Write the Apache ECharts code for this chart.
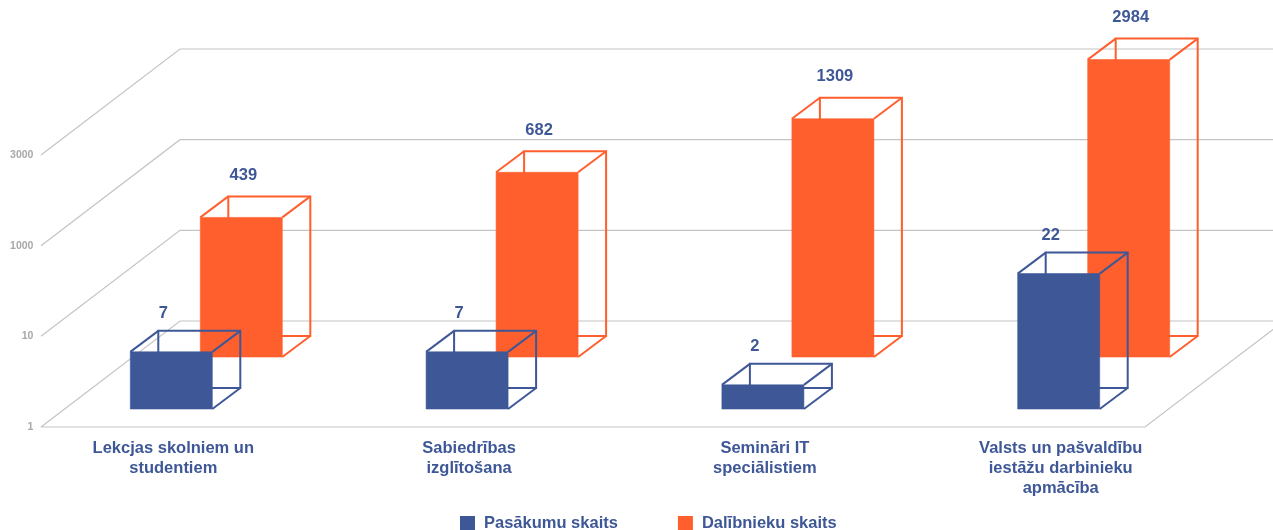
<!DOCTYPE html>
<html lang="lv">
<head>
<meta charset="utf-8">
<title>Pasākumu un dalībnieku skaits</title>
<style>
  html, body { margin: 0; padding: 0; background: #fff; }
  #chart { width: 1273px; height: 530px; }
</style>
</head>
<body>
<div id="chart"></div>
<script src="https://cdn.jsdelivr.net/npm/echarts@6/dist/echarts.min.js"></script>
<script>
// Training activity: number of events and participants per programme.
const categories = [
  'Lekcjas skolniem un\nstudentiem',
  'Sabiedrības\nizglītošana',
  'Semināri IT\nspeciālistiem',
  'Valsts un pašvaldību\niestāžu darbinieku\napmācība'
];
const eventCounts = [7, 7, 2, 22];
const participantCounts = [439, 682, 1309, 2984];
const axisTicks = ['1', '10', '1000', '3000'];

const BLUE = '#3e5797';
const ORANGE = '#ff5f2d';
const GRID_GREY = '#c4c4c4';
const FONT = '"Liberation Sans", Arial, sans-serif';

// Oblique projection of the room and of each box.
const ROOM_DEPTH = [139, -106];
const BOX_DEPTH = [28, -21];
const BOX_WIDTH = 82;
const WALL_LEFT = 41;
const FLOOR_RIGHT = 1145;
const WALL_RIGHT = 1284;

// Each series has its own compressed scale, read on a hidden linear axis.
const eventScale = v => Math.pow(v, 0.8);
const participantScale = v => Math.log10(v - 200);

function boxRenderer(scale, base, slotOffset, color, labelOffset) {
  return function (params, api) {
    const i = api.value(0);
    const value = api.value(1);
    const cx = api.coord([i, base])[0];
    const left = cx + slotOffset;
    const bottom = api.coord([i, base])[1];
    const top = api.coord([i, scale(value)])[1];
    const right = left + BOX_WIDTH;
    const [dx, dy] = BOX_DEPTH;
    const wire = { stroke: color, lineWidth: 2, fill: null };
    const edge = (x1, y1, x2, y2) => ({
      type: 'line', shape: { x1, y1, x2, y2 }, style: wire
    });
    return {
      type: 'group',
      children: [
        {
          type: 'rect',
          shape: { x: left + dx, y: top + dy, width: BOX_WIDTH, height: bottom - top },
          style: wire
        },
        edge(left, top, left + dx, top + dy),
        edge(right, top, right + dx, top + dy),
        edge(right, bottom, right + dx, bottom + dy),
        {
          type: 'rect',
          shape: { x: left, y: top, width: BOX_WIDTH, height: bottom - top },
          style: { fill: color, stroke: color, lineWidth: 0.6 }
        },
        {
          type: 'text',
          style: {
            x: left + BOX_WIDTH / 2 + labelOffset[0],
            y: top + labelOffset[1],
            text: String(value),
            fill: BLUE,
            font: 'bold 16.5px ' + FONT,
            align: 'center',
            verticalAlign: 'middle'
          }
        }
      ]
    };
  };
}

// Floor and left wall / back wall rulings, one per axis tick.
function roomRenderer(params, api) {
  const y = api.coord([0, api.value(1)])[1];
  const [dx, dy] = ROOM_DEPTH;
  const style = { stroke: GRID_GREY, lineWidth: 1.2, fill: null };
  const children = [{
    type: 'polyline',
    shape: { points: [[WALL_LEFT, y], [WALL_LEFT + dx, y + dy], [WALL_RIGHT, y + dy]] },
    style
  }];
  if (api.value(1) === 0) {
    children.push({
      type: 'polyline',
      shape: { points: [[WALL_LEFT, y], [FLOOR_RIGHT, y], [FLOOR_RIGHT + dx, y + dy]] },
      style
    });
  }
  return { type: 'group', children };
}

const chart = echarts.init(document.getElementById('chart'));
chart.setOption({
  animation: false,
  backgroundColor: '#ffffff',
  textStyle: { fontFamily: FONT },
  grid: { left: 25.4, width: 1183.2, top: 155, height: 272 },
  legend: {
    left: 460,
    top: 515,
    padding: 0,
    icon: 'rect',
    itemWidth: 15,
    itemHeight: 15,
    itemGap: 60,
    data: ['Pasākumu skaits', 'Dalībnieku skaits'],
    textStyle: { color: BLUE, fontFamily: FONT, fontWeight: 'bold', fontSize: 16.5, padding: [0, 0, 0, 4] }
  },
  xAxis: {
    type: 'category',
    data: categories,
    axisLine: { show: false },
    axisTick: { show: false },
    axisLabel: {
      interval: 0,
      margin: 11,
      color: BLUE,
      fontFamily: FONT,
      fontWeight: 'bold',
      fontSize: 16.5,
      lineHeight: 20,
      align: 'center'
    }
  },
  yAxis: [
    {
      type: 'category',
      boundaryGap: false,
      data: axisTicks,
      axisLine: { show: false },
      axisTick: { show: false },
      splitLine: { show: false },
      axisLabel: {
        interval: 0,
        margin: -8,
        color: '#a8a8a8',
        fontFamily: FONT,
        fontWeight: 'bold',
        fontSize: 10.5
      }
    },
    { type: 'value', show: false, min: -2.09, max: 22.64 },
    { type: 'value', show: false, min: 0.962, max: 2.8 }
  ],
  series: [
    {
      name: 'room',
      type: 'custom',
      z: 1,
      silent: true,
      xAxisIndex: 0,
      yAxisIndex: 0,
      renderItem: roomRenderer,
      encode: { x: 0, y: 1 },
      data: axisTicks.map((t, i) => [0, i])
    },
    {
      name: 'Dalībnieku skaits',
      type: 'custom',
      z: 2,
      xAxisIndex: 0,
      yAxisIndex: 2,
      itemStyle: { color: ORANGE },
      renderItem: boxRenderer(participantScale, 1.435, 27, ORANGE, [2, -42]),
      encode: { x: 0, y: 1 },
      data: participantCounts.map((v, i) => [i, v])
    },
    {
      name: 'Pasākumu skaits',
      type: 'custom',
      z: 3,
      xAxisIndex: 0,
      yAxisIndex: 1,
      itemStyle: { color: BLUE },
      renderItem: boxRenderer(eventScale, -0.4545, -43, BLUE, [-8, -38]),
      encode: { x: 0, y: 1 },
      data: eventCounts.map((v, i) => [i, v])
    }
  ]
});
</script>
</body>
</html>
